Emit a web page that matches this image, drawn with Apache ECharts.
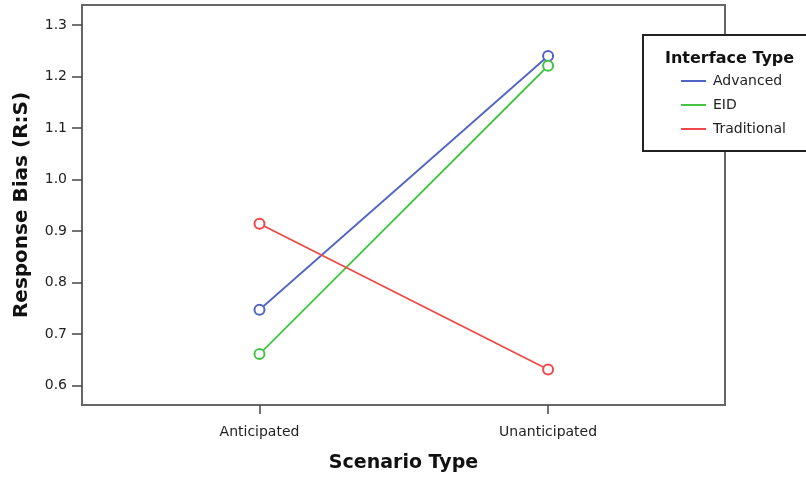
<!DOCTYPE html>
<html>
<head>
<meta charset="utf-8">
<script src="https://cdn.jsdelivr.net/npm/echarts@6/dist/echarts.min.js"></script>
<style>
  html, body { margin: 0; padding: 0; background: #fff; }
  #chart { width: 806px; height: 479px; }
</style>
</head>
<body>
<div id="chart"></div>
<script>
// scenario categories on the x axis
var categories = ['Anticipated', 'Unanticipated'];
// response bias per interface type
var advanced = [0.747, 1.240];
var eid = [0.661, 1.221];
var traditional = [0.914, 0.631];
var yTicks = [0.6, 0.7, 0.8, 0.9, 1.0, 1.1, 1.2, 1.3];

var font = '"DejaVu Sans", Arial, sans-serif';

function toPoints(vals) {
  return vals.map(function (v, i) { return [i, v]; });
}

function makeSeries(name, vals, color) {
  return {
    name: name,
    type: 'line',
    data: toPoints(vals),
    symbol: 'emptyCircle',
    symbolSize: 10,
    color: color,
    lineStyle: { width: 1.8, color: color },
    itemStyle: { color: color, borderWidth: 2 },
    animation: false,
    z: 3
  };
}

var chart = echarts.init(document.getElementById('chart'));
chart.setOption({
  backgroundColor: '#fff',
  textStyle: { fontFamily: font },
  grid: {
    left: 82,
    right: 81,
    top: 5,
    bottom: 74,
    show: true,
    borderColor: '#666',
    borderWidth: 2
  },
  xAxis: {
    type: 'value',
    min: -0.615,
    max: 1.613,
    name: 'Scenario Type',
    nameLocation: 'middle',
    nameGap: 49,
    nameTextStyle: { fontSize: 19, fontWeight: 'bold', color: '#111', fontFamily: font },
    axisLine: { show: true, onZero: false, lineStyle: { color: '#666', width: 2 } },
    axisTick: { show: true, length: 9, customValues: [0, 1], lineStyle: { color: '#444', width: 1.5 } },
    axisLabel: {
      customValues: [0, 1],
      margin: 20,
      fontSize: 14,
      color: '#222',
      formatter: function (v) { return categories[Math.round(v)]; }
    },
    splitLine: { show: false }
  },
  yAxis: {
    type: 'value',
    min: 0.562,
    max: 1.339,
    name: 'Response Bias (R:S)',
    nameLocation: 'middle',
    nameGap: 50,
    nameTextStyle: { fontSize: 20, fontWeight: 'bold', color: '#111', fontFamily: font },
    axisLine: { show: true, onZero: false, lineStyle: { color: '#666', width: 2 } },
    axisTick: { show: true, length: 10, customValues: yTicks, lineStyle: { color: '#444', width: 1.5 } },
    axisLabel: {
      customValues: yTicks,
      margin: 15,
      fontSize: 14,
      color: '#222',
      formatter: function (v) { return v.toFixed(1); }
    },
    splitLine: { show: false }
  },
  title: {
    text: 'Interface Type',
    left: 660,
    top: 46,
    textStyle: { fontSize: 16, fontWeight: 'bold', color: '#111', fontFamily: font },
    z: 20
  },
  legend: {
    orient: 'vertical',
    left: 676,
    top: 69,
    itemWidth: 25,
    itemHeight: 2,
    itemGap: 10,
    icon: 'rect',
    textStyle: { fontSize: 14, color: '#222', fontFamily: font, padding: [0, 0, 0, 2] },
    z: 20
  },
  graphic: [{
    type: 'rect',
    shape: { x: 643, y: 35, width: 200, height: 116 },
    style: { fill: '#fff', stroke: '#222', lineWidth: 2 },
    z: 10
  }],
  series: [
    makeSeries('Advanced', advanced, '#5064c4'),
    makeSeries('EID', eid, '#44c444'),
    makeSeries('Traditional', traditional, '#f04848')
  ]
});
</script>
</body>
</html>
